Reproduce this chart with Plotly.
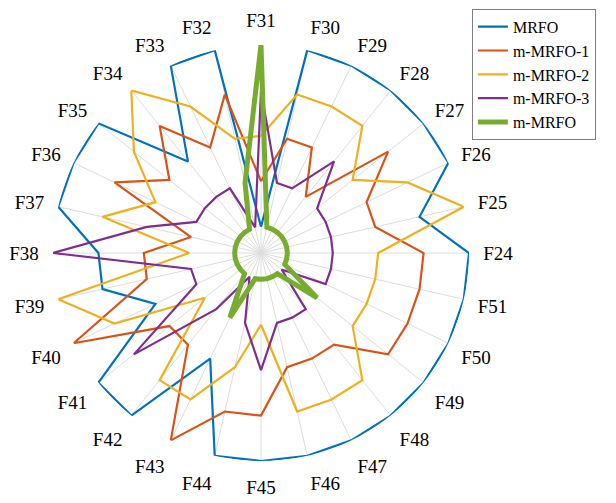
import plotly.graph_objects as go

categories = ["F31", "F30", "F29", "F28", "F27", "F26", "F25", "F24", "F51", "F50",
              "F49", "F48", "F47", "F46", "F45", "F44", "F43", "F42", "F41", "F40",
              "F39", "F38", "F37", "F36", "F35", "F34", "F33", "F32"]

mrfo   = [1, 5, 5, 5, 5, 5, 4, 5, 5, 5, 5, 5, 5, 5, 5, 5, 3, 5, 5, 3, 4, 4, 5, 5, 5, 3, 5, 5]
mrfo_1 = [2, 3, 3, 2, 4, 3, 3, 4, 4, 4, 4, 3, 3, 3, 4, 4, 5, 3, 3, 5, 3, 3, 2, 4, 3, 4, 3, 4]
mrfo_2 = [3, 4, 4, 4, 3, 4, 5, 3, 3, 3, 3, 4, 4, 4, 2, 3, 4, 4, 2, 4, 5, 2, 4, 3, 4, 5, 4, 3]
mrfo_3 = [4, 2, 2, 3, 2, 2, 2, 2, 2, 2, 1, 2, 2, 2, 3, 2, 1, 2, 4, 2, 2, 5, 3, 2, 2, 2, 2, 1]
m_mrfo = [5, 1, 1, 1, 1, 1, 1, 1, 1, 1, 2, 1, 1, 1, 1, 1, 2, 1, 1, 1, 1, 1, 1, 1, 1, 1, 1, 2]

series_names = ["MRFO", "m-MRFO-1", "m-MRFO-2", "m-MRFO-3", "m-MRFO"]
series_values = [mrfo, mrfo_1, mrfo_2, mrfo_3, m_mrfo]
colors = ["#0072BD", "#D95319", "#EDB120", "#7E2F8E", "#77AC30"]
widths = [2.2, 2.2, 2.2, 2.2, 5]

FONT = "Liberation Serif, Times New Roman, serif"

fig = go.Figure()
for name, vals, col, w in zip(series_names, series_values, colors, widths):
    fig.add_trace(go.Scatterpolar(
        r=vals + vals[:1],
        theta=categories + categories[:1],
        mode="lines",
        name=name,
        line=dict(color=col, width=w),
    ))

fig.update_layout(
    width=616, height=503,
    margin=dict(l=45, r=155, t=37, b=50, pad=0, autoexpand=False),
    paper_bgcolor="white",
    plot_bgcolor="white",
    font=dict(family=FONT, size=19, color="black"),
    polar=dict(
        bgcolor="white",
        domain=dict(x=[0, 1], y=[0, 1]),
        radialaxis=dict(range=[0.42, 5], visible=False, showgrid=False),
        angularaxis=dict(
            type="category",
            categoryorder="array",
            categoryarray=categories,
            rotation=90,
            direction="clockwise",
            showline=False,
            showgrid=True,
            gridcolor="#dcdcdc",
            gridwidth=1,
            ticks="outside",
            ticklen=10,
            tickcolor="rgba(0,0,0,0)",
            tickfont=dict(family=FONT, size=19, color="black"),
        ),
    ),
    legend=dict(
        x=1.007, y=1.087, xanchor="left", yanchor="top",
        bordercolor="#808080", borderwidth=1,
        bgcolor="white",
        font=dict(family=FONT, size=16, color="black"),
        tracegroupgap=0,
        itemwidth=30,
    ),
    showlegend=True,
)

fig.write_html("out.html")
